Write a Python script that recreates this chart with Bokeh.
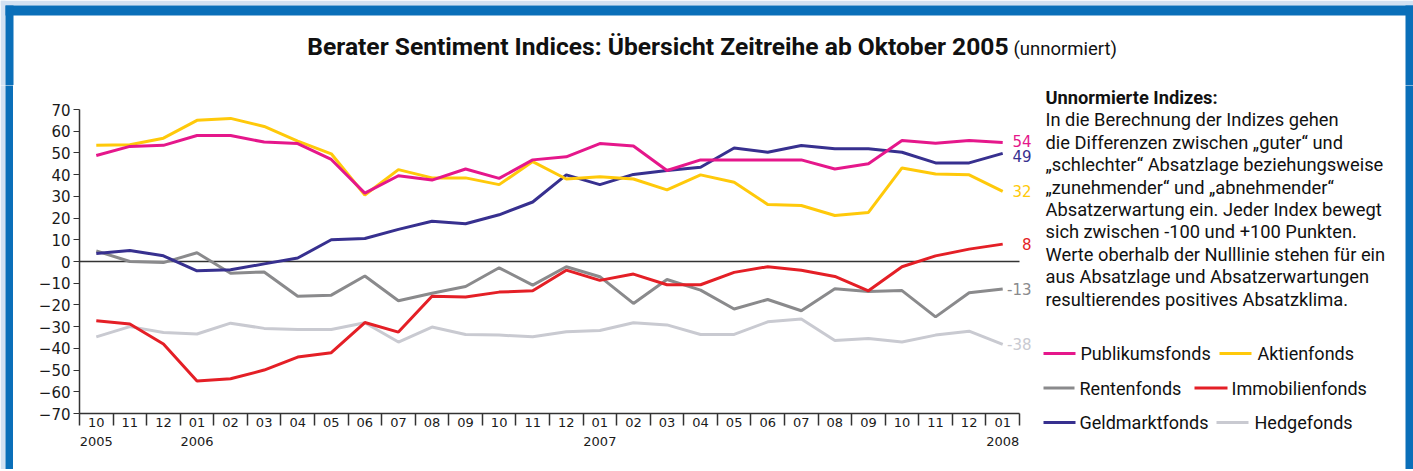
from bokeh.plotting import figure
from bokeh.models import Range1d, FixedTicker
from bokeh.layouts import column, row
from bokeh.core.properties import value
from bokeh.embed import file_html
from bokeh.resources import INLINE

# ---------------- data ----------------
months = ["10", "11", "12", "01", "02", "03", "04", "05", "06", "07", "08", "09",
          "10", "11", "12", "01", "02", "03", "04", "05", "06", "07", "08", "09",
          "10", "11", "12", "01"]
years = {0: "2005", 3: "2006", 15: "2007", 27: "2008"}

publikumsfonds = [48.8, 53.0, 53.5, 58.0, 58.0, 55.0, 54.3, 47.0, 31.5, 39.5, 37.5, 42.6, 38.3, 46.8,
                  48.2, 54.3, 53.2, 41.9, 46.8, 46.8, 46.8, 46.8, 42.6, 45.0, 55.7, 54.5, 55.7, 54.8]
aktienfonds = [53.5, 53.8, 56.8, 65.0, 65.9, 62.2, 55.4, 49.6, 30.6, 42.3, 38.5, 38.5, 35.4, 46.0,
               38.0, 39.0, 38.0, 33.0, 39.9, 36.5, 26.3, 25.8, 21.2, 22.6, 43.1, 40.3, 39.9, 32.3]
rentenfonds = [4.9, 0.0, -0.5, 4.0, -5.4, -4.8, -16.0, -15.5, -6.7, -18.1, -14.6, -11.5, -2.9, -10.9,
               -2.4, -7.0, -19.3, -8.3, -13.2, -21.9, -17.5, -22.7, -12.6, -13.8, -13.4, -25.5, -14.4, -12.7]
immobilienfonds = [-27.3, -28.8, -38.0, -55.0, -54.0, -50.0, -44.0, -42.0, -28.1, -32.5, -16.0, -16.3, -14.1, -13.5,
                   -4.0, -8.7, -5.8, -10.7, -10.7, -5.0, -2.4, -4.0, -6.9, -13.5, -2.4, 2.6, 5.7, 8.0]
geldmarktfonds = [3.7, 5.1, 2.6, -4.3, -3.8, -1.1, 1.6, 10.0, 10.6, 14.8, 18.5, 17.4, 21.5, 27.4,
                  39.9, 35.4, 40.1, 41.9, 43.4, 52.3, 50.3, 53.4, 51.9, 51.9, 50.3, 45.4, 45.4, 49.8]
hedgefonds = [-34.7, -30.0, -32.7, -33.4, -28.4, -30.8, -31.3, -31.3, -28.2, -37.1, -30.2, -33.6, -33.9, -34.7,
              -32.4, -31.8, -28.2, -29.2, -33.6, -33.6, -27.8, -26.5, -36.4, -35.5, -37.1, -33.9, -32.1, -38.2]

series_names = ["Hedgefonds", "Rentenfonds", "Immobilienfonds", "Geldmarktfonds", "Aktienfonds", "Publikumsfonds"]
series_values = [hedgefonds, rentenfonds, immobilienfonds, geldmarktfonds, aktienfonds, publikumsfonds]
end_labels = ["-38", "-13", "8", "49", "32", "54"]
colors = {
    "Publikumsfonds": "#e5178b",
    "Aktienfonds": "#ffc90a",
    "Rentenfonds": "#8a8a8c",
    "Immobilienfonds": "#e41f26",
    "Geldmarktfonds": "#37308f",
    "Hedgefonds": "#c9cad1",
}
y_ticks = list(range(-70, 71, 10))

title_main = "Berater Sentiment Indices: Übersicht Zeitreihe ab Oktober 2005"
title_sub = "(unnormiert)"
note_head = "Unnormierte Indizes:"
note_lines = [
    "In die Berechnung der Indizes gehen",
    "die Differenzen zwischen \u201eguter\u201c und",
    "\u201eschlechter\u201c Absatzlage beziehungsweise",
    "\u201ezunehmender\u201c und \u201eabnehmender\u201c",
    "Absatzerwartung ein. Jeder Index bewegt",
    "sich zwischen -100 und +100 Punkten.",
    "Werte oberhalb der Nulllinie stehen für ein",
    "aus Absatzlage und Absatzerwartungen",
    "resultierendes positives Absatzklima.",
]
legend_rows = [
    [("Publikumsfonds", 1043, 1075, 1080), ("Aktienfonds", 1219, 1251, 1257)],
    [("Rentenfonds", 1043, 1074, 1079), ("Immobilienfonds", 1194, 1227, 1231)],
    [("Geldmarktfonds", 1043, 1075, 1079), ("Hedgefonds", 1216, 1248, 1254)],
]

# ---------------- page geometry ----------------
W, H = 1413, 471
TOP_H = 85          # title band
BOT_H = 2           # bottom light line
MID_H = H - TOP_H - BOT_H
LEFT_W = 13
SPLIT = 1037        # chart | side panel
FL, FR, FT, FB = 79, 1019, 109, 413   # chart plot area (page px)
LIGHT, BLUE, INK = "#d2e1f2", "#0a6fb9", "#111111"

deco = [  # (x0, y0, x1, y1, color) in page px
    (0, 0, W, 5, LIGHT), (0, 0, 5, H, LIGHT), (13, 469, 1405, H, LIGHT),
    (5, 5, W, 15, BLUE), (5, 5, 13, H, BLUE), (1405, 5, W, H, BLUE),
]


def px_fig(x0, x1, y0, y1):
    f = figure(width=x1 - x0, height=y1 - y0, x_range=Range1d(x0, x1), y_range=Range1d(y1, y0),
               output_backend="svg", toolbar_location=None, x_axis_location=None, y_axis_location=None,
               min_border=0, min_border_left=0, min_border_right=0, min_border_top=0, min_border_bottom=0)
    f.outline_line_color = None
    f.background_fill_color = "white"
    f.border_fill_color = "white"
    f.xgrid.visible = False
    f.ygrid.visible = False
    f.quad(left=[d[0] for d in deco], right=[d[2] for d in deco], top=[d[1] for d in deco],
           bottom=[d[3] for d in deco], fill_color=[d[4] for d in deco], line_color=None)
    return f


def txt(f, x, y, s, size, color=INK, font="Roboto", align="left", bold=False):
    f.text(x=[x], y=[y], text=[s], text_font=value(font), text_font_size=value(f"{size}px"),
           text_color=color, text_align=align, text_baseline="middle",
           text_font_style="bold" if bold else "normal")


# ---- top band with title
top = px_fig(0, W, 0, TOP_H)
txt(top, 1008, 46, title_main, 24.6, bold=True, align="right")
txt(top, 1013, 48, title_sub, 18.5)

# ---- left strip
left = px_fig(0, LEFT_W, TOP_H, TOP_H + MID_H)

# ---- bottom line
bottom = px_fig(0, W, TOP_H + MID_H, H)

# ---- side panel: note + legend
side = px_fig(SPLIT, W, TOP_H, TOP_H + MID_H)
txt(side, 1045, 97, note_head, 18.3, bold=True)
for k, line in enumerate(note_lines):
    txt(side, 1045, 119.4 + 22.4 * k, line, 18.3)
for r, rw in enumerate(legend_rows):
    cy = 353 + 34.5 * r
    for name, x0, x1, tx in rw:
        side.segment(x0=[x0], y0=[cy], x1=[x1], y1=[cy], line_color=colors[name], line_width=3)
        txt(side, tx, cy, name, 18)

# ---- chart
N = len(months)
xs = [2 * i + 1 for i in range(N)]
CW = SPLIT - LEFT_W
sx = (FR - FL) / (2 * N)
sy = (FB - FT) / 140.0
x_hi = (SPLIT - FL) / sx
y_hi = 70 + (FT - TOP_H) / sy

chart = figure(width=CW, height=MID_H, x_range=Range1d(0, x_hi), y_range=Range1d(-70, y_hi),
               output_backend="svg", toolbar_location=None,
               min_border_left=FL - LEFT_W, min_border_right=0, min_border_top=0,
               min_border_bottom=TOP_H + MID_H - FB)
chart.outline_line_color = None
chart.background_fill_color = "white"
chart.border_fill_color = "white"
chart.xgrid.visible = False
chart.ygrid.visible = False

# zero line
chart.segment(x0=[0], y0=[0], x1=[2 * N], y1=[0], line_color="#333333", line_width=1.5)

for name, vals in zip(series_names, series_values):
    chart.line(xs, vals, line_color=colors[name], line_width=3)

label_x = (1031 - FL) / sx
for name, vals, s in zip(series_names, series_values, end_labels):
    yv = vals[-1]
    if name == "Geldmarktfonds":
        yv -= 1
    if name == "Publikumsfonds":
        yv += 0.5
    txt(chart, label_x, yv, s, 15, color=colors[name], font="DejaVu Sans", align="right")

ya = chart.yaxis[0]
ya.bounds = (-70, 70)
ya.ticker = FixedTicker(ticks=y_ticks)
ya.axis_line_color = "#333333"
ya.axis_line_width = 1.5
ya.major_tick_out = 6
ya.major_tick_in = 0
ya.major_tick_line_color = "#333333"
ya.minor_tick_line_color = None
ya.major_label_text_font = "DejaVu Sans"
ya.major_label_text_font_size = "15px"
ya.major_label_text_color = "#1a1a1a"
ya.major_label_standoff = 3

xa = chart.xaxis[0]
xa.bounds = (0, 2 * N)
xa.ticker = FixedTicker(ticks=xs, minor_ticks=list(range(0, 2 * N + 1, 2)))
xa.major_label_overrides = {xs[i]: m + ("\n" + years[i] if i in years else "") for i, m in enumerate(months)}
xa.axis_line_color = "#333333"
xa.axis_line_width = 1.5
xa.major_tick_out = 0
xa.major_tick_in = 0
xa.major_tick_line_color = None
xa.minor_tick_out = 12
xa.minor_tick_in = 0
xa.minor_tick_line_color = "#333333"
xa.minor_tick_line_width = 1.5
xa.major_label_text_font = "DejaVu Sans"
xa.major_label_text_font_size = "13px"
xa.major_label_text_color = "#1a1a1a"
xa.major_label_text_line_height = 1.3
xa.major_label_standoff = -11

page = column(top, row(column(left), chart, column(side)), bottom)
open("out.html", "w").write(file_html(page, INLINE))
